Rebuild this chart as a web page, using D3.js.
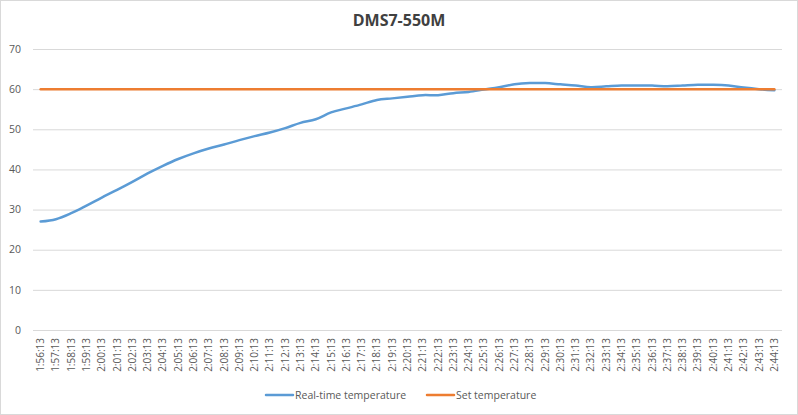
<!DOCTYPE html>
<html><head><meta charset="utf-8">
<script src="https://cdn.jsdelivr.net/npm/d3@7"></script>
<style>body{margin:0;background:#fff;}svg{display:block;font-family:"Open Sans",sans-serif;}</style>
</head><body><svg id="c" width="798" height="415"></svg>
<script>
const categories = ["1:56:13","1:57:13","1:58:13","1:59:13","2:00:13","2:01:13","2:02:13","2:03:13","2:04:13","2:05:13","2:06:13","2:07:13","2:08:13","2:09:13","2:10:13","2:11:13","2:12:13","2:13:13","2:14:13","2:15:13","2:16:13","2:17:13","2:18:13","2:19:13","2:20:13","2:21:13","2:22:13","2:23:13","2:24:13","2:25:13","2:26:13","2:27:13","2:28:13","2:29:13","2:30:13","2:31:13","2:32:13","2:33:13","2:34:13","2:35:13","2:36:13","2:37:13","2:38:13","2:39:13","2:40:13","2:41:13","2:42:13","2:43:13","2:44:13"];
const realTime = [27.0,27.6,29.1,31.0,33.0,34.9,36.9,39.0,40.9,42.6,44.0,45.2,46.2,47.3,48.3,49.2,50.3,51.6,52.5,54.2,55.2,56.2,57.3,57.7,58.1,58.5,58.5,59.0,59.3,59.9,60.5,61.2,61.5,61.5,61.2,60.9,60.5,60.7,60.9,60.9,60.9,60.7,60.9,61.1,61.1,60.9,60.4,60.0,59.7];
const setTemp = categories.map(() => 60);
const yTicks = [0,10,20,30,40,50,60,70];
const seriesNames = ["Real-time temperature","Set temperature"];
const colors = ["#5b9bd5","#ed7d31"];

const svg = d3.select("#c");
svg.append("rect").attr("x",0.5).attr("y",0.5).attr("width",797).attr("height",414).attr("fill","#fff").attr("stroke","#d9d9d9");

const x = d3.scaleBand().domain(categories).range([33,782]);
const y = d3.scaleLinear().domain([0,70]).range([330,49]);

// gridlines
svg.append("g").selectAll("line").data(yTicks).join("line")
  .attr("x1",33).attr("x2",782).attr("y1",d=>y(d)+0.5).attr("y2",d=>y(d)+0.5)
  .attr("stroke","#d9d9d9").attr("stroke-width",1);

// y labels
svg.append("g").selectAll("text").data(yTicks).join("text")
  .attr("x",21).attr("y",d=>y(d)).attr("dy","0.35em").attr("text-anchor","end")
  .attr("fill","#595959").attr("font-size","10.5px").text(d=>d);

// x labels
svg.append("g").selectAll("text").data(categories).join("text")
  .attr("transform",d=>`translate(${x(d)+x.bandwidth()/2},338) rotate(-90)`)
  .attr("dy","0.35em").attr("text-anchor","end")
  .attr("fill","#595959").attr("font-size","10px").text(d=>d);

const line = d3.line().x((d,i)=>x(categories[i])+x.bandwidth()/2).y(d=>y(d)).curve(d3.curveCatmullRom.alpha(0.5));
svg.append("path").datum(realTime).attr("d",line).attr("fill","none").attr("stroke",colors[0]).attr("stroke-width",2.5).attr("stroke-linecap","round");
svg.append("path").datum(setTemp).attr("d",line).attr("fill","none").attr("stroke",colors[1]).attr("stroke-width",2.5).attr("stroke-linecap","round");

// title
svg.append("text").attr("x",399).attr("y",26).attr("text-anchor","middle")
  .attr("font-size","16px").attr("font-weight","bold").attr("fill","#404040").text("DMS7-550M");

// legend
const legX = [266,427];
const lg = svg.append("g").selectAll("g").data(seriesNames).join("g")
  .attr("transform",(d,i)=>`translate(${legX[i]},395)`);
lg.append("line").attr("x1",0).attr("x2",27).attr("y1",0).attr("y2",0)
  .attr("stroke",(d,i)=>colors[i]).attr("stroke-width",2.5).attr("stroke-linecap","round");
lg.append("text").attr("x",29).attr("y",0).attr("dy","0.35em")
  .attr("fill","#595959").attr("font-size","10.5px").text(d=>d);
</script></body></html>
